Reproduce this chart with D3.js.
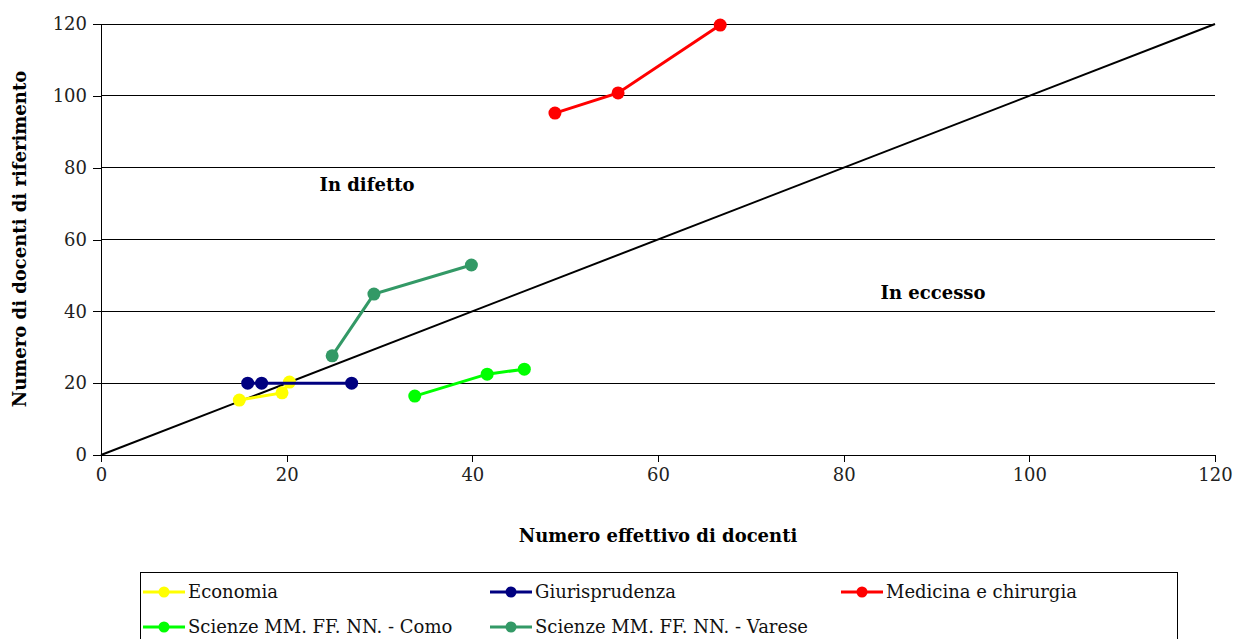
<!DOCTYPE html>
<html><head><meta charset="utf-8">
<script src="https://cdn.jsdelivr.net/npm/d3@7"></script>
<style>body{margin:0;background:#fff}</style>
</head><body><svg id="c" width="1236" height="639"></svg>
<script>
const seriesNames = ["Economia","Giurisprudenza","Medicina e chirurgia","Scienze MM. FF. NN. - Como","Scienze MM. FF. NN. - Varese"];
const seriesColors = ["#ffff00","#000080","#ff0000","#00ff00","#339966"];
const economiaX = [14.9, 19.5, 20.3];
const economiaY = [15.3, 17.3, 20.3];
const giurisprudenzaX = [15.8, 17.3, 27.0];
const giurisprudenzaY = [20, 20, 20];
const medicinaX = [48.9, 55.7, 66.7];
const medicinaY = [95.2, 100.8, 119.7];
const comoX = [33.8, 41.6, 45.6];
const comoY = [16.4, 22.5, 23.9];
const vareseX = [24.9, 29.4, 39.9];
const vareseY = [27.6, 44.8, 52.9];
const ticks = [0,20,40,60,80,100,120];

const seriesX = [economiaX, giurisprudenzaX, medicinaX, comoX, vareseX];
const seriesY = [economiaY, giurisprudenzaY, medicinaY, comoY, vareseY];
const FONT = "'DejaVu Serif', serif";

const svg = d3.select("#c");
const x = d3.scaleLinear().domain([0,120]).range([101,1215]);
const y = d3.scaleLinear().domain([0,120]).range([455,24]);

svg.append("g").selectAll("line").data(ticks.filter(t=>t>0)).join("line")
  .attr("x1",x(0)).attr("x2",x(120)).attr("y1",d=>y(d)).attr("y2",d=>y(d))
  .attr("stroke","#000").attr("stroke-width",1).attr("shape-rendering","crispEdges");

const xa = svg.append("g").attr("transform",`translate(0,${y(0)})`)
  .call(d3.axisBottom(x).tickValues(ticks).tickSize(7).tickPadding(6).tickFormat(d3.format("d")));
const ya = svg.append("g").attr("transform",`translate(${x(0)},0)`)
  .call(d3.axisLeft(y).tickValues(ticks).tickSize(8).tickPadding(6).tickFormat(d3.format("d")));
[xa,ya].forEach(a=>{
  a.attr("font-family",null);
  a.select(".domain").attr("stroke","#000").attr("shape-rendering","crispEdges");
  a.selectAll(".tick line").attr("stroke","#000").attr("shape-rendering","crispEdges");
  a.selectAll("text").attr("font-size",18).attr("fill","#222").style("font-family",FONT);
});

svg.append("line").attr("x1",x(0)).attr("y1",y(0)).attr("x2",x(120)).attr("y2",y(120))
  .attr("stroke","#000").attr("stroke-width",2);

const line = d3.line().x(d=>x(d[0])).y(d=>y(d[1]));
seriesNames.forEach((n,i)=>{
  const pts = seriesX[i].map((v,j)=>[v, seriesY[i][j]]);
  const g = svg.append("g");
  g.append("path").datum(pts).attr("d",line).attr("fill","none")
    .attr("stroke",seriesColors[i]).attr("stroke-width",3);
  g.selectAll("circle").data(pts).join("circle")
    .attr("cx",d=>x(d[0])).attr("cy",d=>y(d[1])).attr("r",6.5).attr("fill",seriesColors[i]);
});

function txt(xp,yp,s,size,bold,anchor){
  return svg.append("text").attr("x",xp).attr("y",yp).attr("text-anchor",anchor||"middle")
    .attr("font-size",size).attr("font-weight",bold?"bold":"normal").style("font-family",FONT).text(s);
}
txt(367,191,"In difetto",18,true);
txt(933,299,"In eccesso",18,true);
txt(658,542,"Numero effettivo di docenti",18,true);
txt(0,0,"Numero di docenti di riferimento",18,true).attr("transform","translate(26,239) rotate(-90)");

svg.append("rect").attr("x",140.5).attr("y",572.5).attr("width",1037).attr("height",80)
  .attr("fill","#fff").attr("stroke","#000").attr("stroke-width",1);
const legPos = [[143,592],[490,592],[841,592],[143,627],[490,627]];
seriesNames.forEach((n,i)=>{
  const [lx,ly] = legPos[i];
  const g = svg.append("g");
  g.append("line").attr("x1",lx).attr("x2",lx+42).attr("y1",ly).attr("y2",ly)
    .attr("stroke",seriesColors[i]).attr("stroke-width",3);
  g.append("circle").attr("cx",lx+21).attr("cy",ly).attr("r",5.5).attr("fill",seriesColors[i]);
  txt(lx+45,ly+6,n,18,false,"start").attr("fill","#111");
});
</script></body></html>
